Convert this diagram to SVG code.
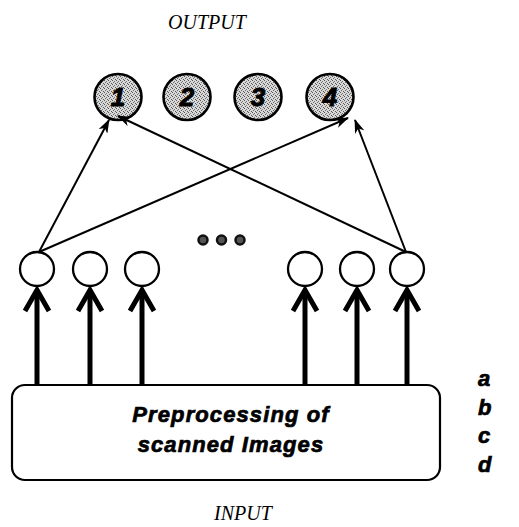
<svg xmlns="http://www.w3.org/2000/svg" width="519" height="527" viewBox="0 0 519 527">
  <style>
    .title { font-family: "Liberation Serif", serif; font-style: italic; font-size: 20px; fill: #000; }
    .out { fill: url(#stipple); stroke: #000; stroke-width: 2.6; }
    .num { font-family: "Liberation Sans", Arial, sans-serif; font-weight: bold; font-style: italic; font-size: 26px; fill: #000; stroke: #000; stroke-width: 0.9; text-anchor: middle; }
    .hid { fill: #fff; stroke: #000; stroke-width: 2.3; }
    .thin { stroke: #000; stroke-width: 2; fill: none; }
    .thick { stroke: #000; stroke-width: 5; fill: none; }
    .head { stroke: #000; stroke-width: 5; fill: none; stroke-linejoin: miter; }
    .box { fill: #fff; stroke: #000; stroke-width: 2.2; }
    .label { font-family: "Liberation Sans", Arial, sans-serif; font-weight: bold; font-style: italic; font-size: 22px; letter-spacing: 1.1px; fill: #000; stroke: #000; stroke-width: 0.7; text-anchor: middle; }
    .side { font-family: "Liberation Sans", Arial, sans-serif; font-weight: bold; font-style: italic; font-size: 22px; fill: #000; stroke: #000; stroke-width: 0.7; }
  </style>
  <defs>
    <!-- halftone grey used for the output units -->
    <pattern id="stipple" width="4" height="4" patternUnits="userSpaceOnUse">
      <rect width="4" height="4" fill="#d8d8d8"/>
      <rect x="0" y="0" width="1" height="1" fill="#555"/>
      <rect x="2" y="1" width="1" height="1" fill="#777"/>
      <rect x="1" y="2" width="1" height="1" fill="#666"/>
      <rect x="3" y="3" width="1" height="1" fill="#555"/>
    </pattern>
    <marker id="tip" viewBox="0 0 14 10" refX="13" refY="5" markerWidth="14" markerHeight="10" markerUnits="userSpaceOnUse" orient="auto">
      <path d="M0,0 L14,5 L0,10 L4,5 z" fill="#000"/>
    </marker>
  </defs>

  <text class="title" x="168" y="29">OUTPUT</text>

  <!-- output neurons -->
  <g id="out1"><ellipse class="out" cx="118" cy="97" rx="23.5" ry="23"/><text class="num" x="118" y="106">1</text></g>
  <g id="out2"><ellipse class="out" cx="187" cy="97" rx="23.5" ry="23"/><text class="num" x="187" y="106">2</text></g>
  <g id="out3"><ellipse class="out" cx="258" cy="97" rx="23.5" ry="23"/><text class="num" x="258" y="106">3</text></g>
  <g id="out4"><ellipse class="out" cx="330" cy="97" rx="23.5" ry="23"/><text class="num" x="330" y="106">4</text></g>

  <!-- hidden / input units -->
  <g id="h1"><ellipse class="hid" cx="37" cy="269" rx="17" ry="17"/></g>
  <g id="h2"><ellipse class="hid" cx="90" cy="269" rx="17" ry="17"/></g>
  <g id="h3"><ellipse class="hid" cx="142" cy="269" rx="17" ry="17"/></g>
  <g id="h4"><ellipse class="hid" cx="305" cy="269" rx="17" ry="17"/></g>
  <g id="h5"><ellipse class="hid" cx="357" cy="269" rx="17" ry="17"/></g>
  <g id="h6"><ellipse class="hid" cx="407" cy="269" rx="17" ry="17"/></g>

  <!-- ellipsis dots -->
  <g id="dots" fill="#555" stroke="#111" stroke-width="2.5">
    <circle cx="203" cy="240" r="4.5"/>
    <circle cx="221.5" cy="240" r="4.5"/>
    <circle cx="240" cy="240" r="4.5"/>
  </g>

  <!-- input box -->
  <g id="pre">
    <rect class="box" x="12" y="385" width="428" height="95" rx="13" ry="13"/>
    <text class="label" x="231" y="422">Preprocessing of</text>
    <text class="label" x="231" y="452">scanned Images</text>
  </g>

  <g id="connectors">
    <!-- weighted links to output layer -->
    <line class="thin" x1="39" y1="252" x2="109" y2="120" marker-end="url(#tip)"/>
    <line class="thin" x1="39" y1="252" x2="348" y2="118" marker-end="url(#tip)"/>
    <line class="thin" x1="406" y1="252" x2="118" y2="116" marker-end="url(#tip)"/>
    <line class="thin" x1="406" y1="252" x2="355" y2="120" marker-end="url(#tip)"/>
    <!-- feature inputs -->
    <g>
      <line class="thick" x1="37" y1="386" x2="37" y2="290"/>
      <line class="thick" x1="90" y1="386" x2="90" y2="290"/>
      <line class="thick" x1="142" y1="386" x2="142" y2="290"/>
      <line class="thick" x1="305" y1="386" x2="305" y2="290"/>
      <line class="thick" x1="357" y1="386" x2="357" y2="290"/>
      <line class="thick" x1="407" y1="386" x2="407" y2="290"/>
      <path class="head" d="M25,311 L37,290 L49,311"/>
      <path class="head" d="M78,311 L90,290 L102,311"/>
      <path class="head" d="M130,311 L142,290 L154,311"/>
      <path class="head" d="M293,311 L305,290 L317,311"/>
      <path class="head" d="M345,311 L357,290 L369,311"/>
      <path class="head" d="M395,311 L407,290 L419,311"/>
    </g>
  </g>

  <text class="side" x="478" y="386">a</text>
  <text class="side" x="478" y="415">b</text>
  <text class="side" x="478" y="443">c</text>
  <text class="side" x="478" y="472">d</text>

  <text class="title" x="214" y="520">INPUT</text>
</svg>
